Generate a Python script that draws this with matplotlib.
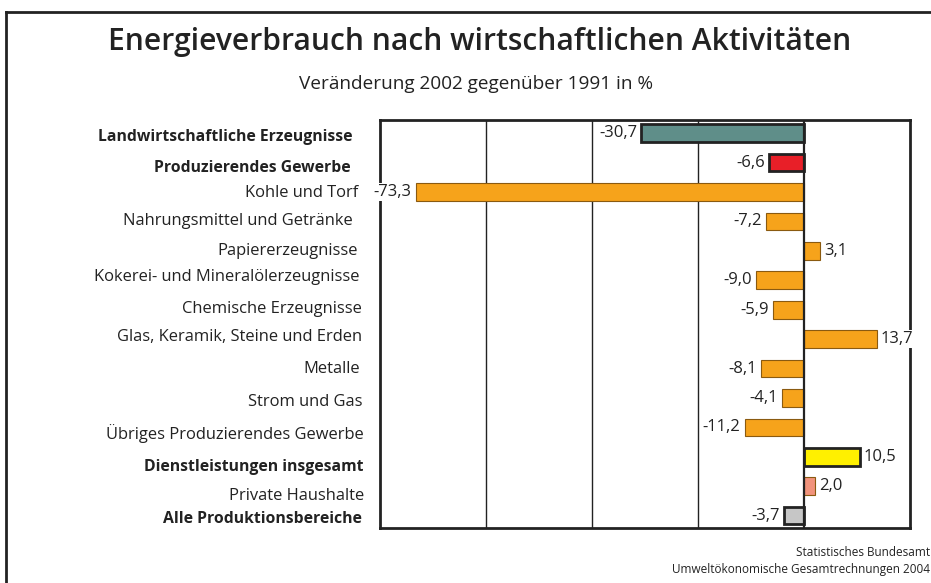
import matplotlib
matplotlib.use("Agg")
import matplotlib.pyplot as plt
from matplotlib.lines import Line2D
from matplotlib.transforms import ScaledTranslation, blended_transform_factory

categories = [
    "Landwirtschaftliche Erzeugnisse",
    "Produzierendes Gewerbe",
    "Kohle und Torf",
    "Nahrungsmittel und Getränke",
    "Papiererzeugnisse",
    "Kokerei- und Mineralölerzeugnisse",
    "Chemische Erzeugnisse",
    "Glas, Keramik, Steine und Erden",
    "Metalle",
    "Strom und Gas",
    "Übriges Produzierendes Gewerbe",
    "Dienstleistungen insgesamt",
    "Private Haushalte",
    "Alle Produktionsbereiche",
]
values = [-30.7, -6.6, -73.3, -7.2, 3.1, -9.0, -5.9, 13.7, -8.1, -4.1, -11.2, 10.5, 2.0, -3.7]
bold = [True, True, False, False, False, False, False, False, False, False, False, True, False, True]
colors = ["#5f8e89", "#e81f28", "#f6a31b", "#f6a31b", "#f6a31b", "#f6a31b", "#f6a31b",
          "#f6a31b", "#f6a31b", "#f6a31b", "#f6a31b", "#fff000", "#f1937c", "#c6c6c6"]
xticks = [-80, -60, -40, -20, 0, 20]

# small offsets (px) of the category labels as in the original: downward shift, right-edge shift
label_dy = [4, 5, 1, 0, 0, -3, -1, -2, 0, 4, 6, 10, 10, 3]
label_dx = [-7, -9, -2, -7, -2, -1, 2, 2, 0, 2, 4, 4, 4, 2]

plt.rcParams['font.family'] = ['Open Sans', 'DejaVu Sans']

fig = plt.figure(figsize=(9.31, 5.83), dpi=100)
ax = fig.add_axes([380/931, 1-528/583, (910-380)/931, (528-120)/583])

ypos = list(range(len(categories)))
for i, (v, c, b) in enumerate(zip(values, colors, bold)):
    thick = b
    ax.barh(i, v, height=0.6, color=c,
            edgecolor="#222222" if thick else "#8a5a10",
            linewidth=2.0 if thick else 0.8, zorder=3)
    lbl = f"{v:.1f}".replace(".", ",")
    if v < 0:
        ax.text(v - 0.8, i, lbl, ha="right", va="center", fontsize=12, color="#222222",
                zorder=4, bbox=dict(facecolor="white", edgecolor="none", pad=1.0))
    else:
        ax.text(v + 0.8, i, lbl, ha="left", va="center", fontsize=12, color="#222222",
                zorder=4, bbox=dict(facecolor="white", edgecolor="none", pad=1.0))

ax.set_xlim(-80, 20)
ax.set_ylim(13.42, -0.45)
for xv in xticks[1:-1]:
    ax.axvline(xv, color="#222222", linewidth=1.6 if xv == 0 else 1.0, zorder=2 if xv != 0 else 3.5)
ax.set_xticks([])
ax.set_yticks([])

blend = blended_transform_factory(ax.transAxes, ax.transData)
for i, (cat, b, dy, dx) in enumerate(zip(categories, bold, label_dy, label_dx)):
    tr = blend + ScaledTranslation((dx - 20) / 100, -dy / 100, fig.dpi_scale_trans)
    ax.text(0, i, cat, transform=tr, ha="right", va="center",
            fontsize=11.3 if b else 11.9, color="#222222",
            fontweight="bold" if b else "normal", clip_on=False)

for s in ax.spines.values():
    s.set_linewidth(2.0)
    s.set_color("#222222")

fig.text(480/931, 1-42/583, "Energieverbrauch nach wirtschaftlichen Aktivitäten", ha="center", va="center",
         fontsize=21.6, fontweight="semibold", color="#222222")
fig.text(476/931, 1-84/583, "Veränderung 2002 gegenüber 1991 in %", ha="center", va="center",
         fontsize=13.7, color="#222222")
fig.text(930/931, 1-552/583, "Statistisches Bundesamt", ha="right", va="center", fontsize=8.5, color="#222222")
fig.text(930/931, 1-569/583, "Umweltökonomische Gesamtrechnungen 2004", ha="right", va="center", fontsize=8.5, color="#222222")

fig.add_artist(Line2D([6/931, 1], [1-12/583, 1-12/583], color="#222222", linewidth=2.0, transform=fig.transFigure))
fig.add_artist(Line2D([6/931, 6/931], [0, 1-12/583], color="#222222", linewidth=2.0, transform=fig.transFigure))

fig.savefig("out.png", dpi=100)
